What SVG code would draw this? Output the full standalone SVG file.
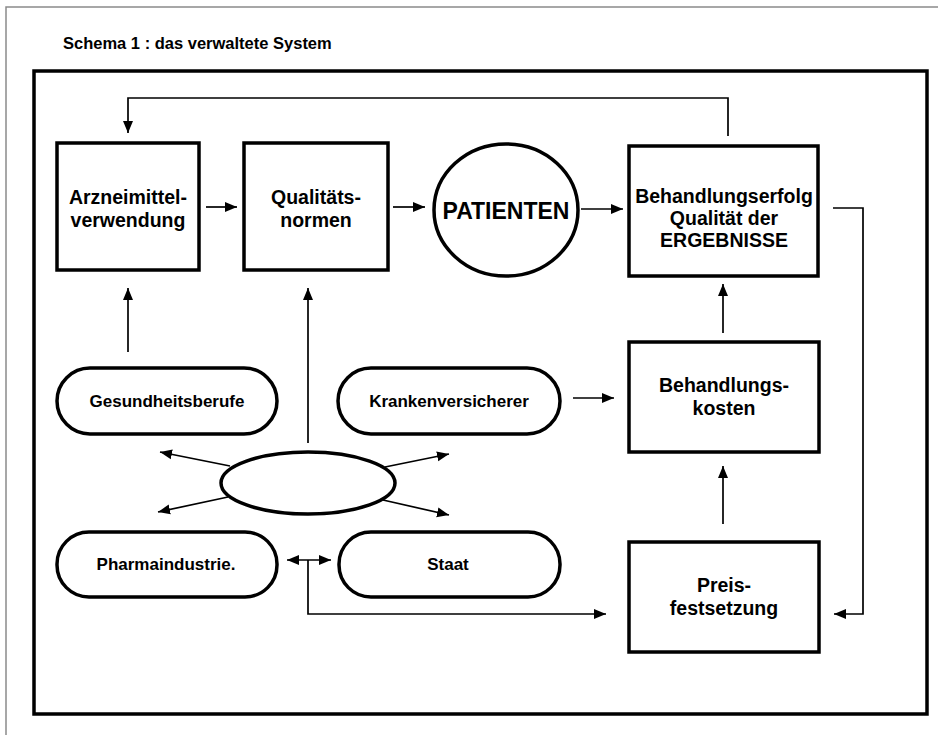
<svg xmlns="http://www.w3.org/2000/svg" width="938" height="735" viewBox="0 0 938 735">
<defs>
<marker id="ah" markerUnits="userSpaceOnUse" markerWidth="13" markerHeight="11" viewBox="0 0 13 11" refX="12" refY="5.5" orient="auto-start-reverse">
<path d="M0,0.5 L12,5.5 L0,10.5 z" fill="#000"/>
</marker>
<style>
.box{fill:#fff;stroke:#000;stroke-width:3.5}
.lbl{font-family:"Liberation Sans",Arial,sans-serif;font-weight:bold;fill:#000;text-anchor:middle}
.big{font-size:19.5px}
.sm{font-size:17px}
.ln{fill:none;stroke:#000;stroke-width:1.7}
.ar{marker-end:url(#ah)}
</style>
</defs>
<rect x="0" y="0" width="938" height="735" fill="#fff"/>
<path d="M6,735 V7 H938" fill="none" stroke="#8a8a8a" stroke-width="1.5"/>
<text x="63" y="49" class="lbl" style="font-size:16.5px;text-anchor:start">Schema 1 : das verwaltete System</text>
<rect x="34" y="71" width="893" height="643" fill="none" stroke="#000" stroke-width="3.5"/>

<g id="connectors">
<polyline class="ln ar" points="728,136 728,98 128,98 128,133"/>
<line class="ln ar" x1="206" y1="207" x2="237" y2="207"/>
<line class="ln ar" x1="393" y1="207" x2="425" y2="207"/>
<line class="ln ar" x1="581" y1="209" x2="623" y2="209"/>
<polyline class="ln ar" points="833,208 863,208 863,614 834,614"/>
<line class="ln ar" x1="723" y1="333" x2="723" y2="284"/>
<line class="ln ar" x1="723" y1="524" x2="723" y2="466"/>
<line class="ln ar" x1="128" y1="352" x2="128" y2="288"/>
<line class="ln ar" x1="308" y1="443" x2="308" y2="288"/>
<line class="ln ar" x1="573" y1="398" x2="614" y2="398"/>
<line class="ln ar" x1="230" y1="466" x2="160" y2="452"/>
<line class="ln ar" x1="385" y1="467" x2="449" y2="454"/>
<line class="ln ar" x1="228" y1="497" x2="158" y2="512"/>
<line class="ln ar" x1="383" y1="500" x2="449" y2="515"/>
<line class="ln ar" x1="287" y1="560" x2="331" y2="560" style="marker-start:url(#ah)"/>
<polyline class="ln ar" points="308,560 308,614 606,614"/>
</g>

<g id="arzneimittel">
<rect class="box" x="57" y="143" width="142" height="127"/>
<text class="lbl big" x="128" y="204">Arzneimittel-</text>
<text class="lbl big" x="128" y="227">verwendung</text>
</g>
<g id="qualitaetsnormen">
<rect class="box" x="244" y="143" width="144" height="127"/>
<text class="lbl big" x="316" y="204">Qualitäts-</text>
<text class="lbl big" x="316" y="227">normen</text>
</g>
<g id="patienten">
<ellipse class="box" cx="506" cy="210" rx="72" ry="66"/>
<text class="lbl" x="506" y="219" style="font-size:23px">PATIENTEN</text>
</g>
<g id="behandlungserfolg">
<rect class="box" x="629" y="146" width="189" height="130"/>
<text class="lbl big" x="724" y="203">Behandlungserfolg</text>
<text class="lbl big" x="724" y="225">Qualität der</text>
<text class="lbl big" x="724" y="247">ERGEBNISSE</text>
</g>
<g id="gesundheitsberufe">
<rect class="box" x="57" y="368" width="220" height="66" rx="33"/>
<text class="lbl sm" x="167" y="407">Gesundheitsberufe</text>
</g>
<g id="krankenversicherer">
<rect class="box" x="338" y="368" width="222" height="66" rx="33"/>
<text class="lbl sm" x="449" y="407">Krankenversicherer</text>
</g>
<g id="behandlungskosten">
<rect class="box" x="629" y="342" width="190" height="110"/>
<text class="lbl big" x="724" y="392">Behandlungs-</text>
<text class="lbl big" x="724" y="415">kosten</text>
</g>
<g id="zentrum">
<ellipse class="box" cx="308" cy="483" rx="87" ry="31"/>
</g>
<g id="pharmaindustrie">
<rect class="box" x="57" y="532" width="220" height="65" rx="32"/>
<text class="lbl sm" x="166" y="570">Pharmaindustrie.</text>
</g>
<g id="staat">
<rect class="box" x="339" y="532" width="221" height="65" rx="32"/>
<text class="lbl sm" x="448" y="570">Staat</text>
</g>
<g id="preisfestsetzung">
<rect class="box" x="629" y="542" width="190" height="110"/>
<text class="lbl big" x="724" y="592">Preis-</text>
<text class="lbl big" x="724" y="615">festsetzung</text>
</g>
</svg>
